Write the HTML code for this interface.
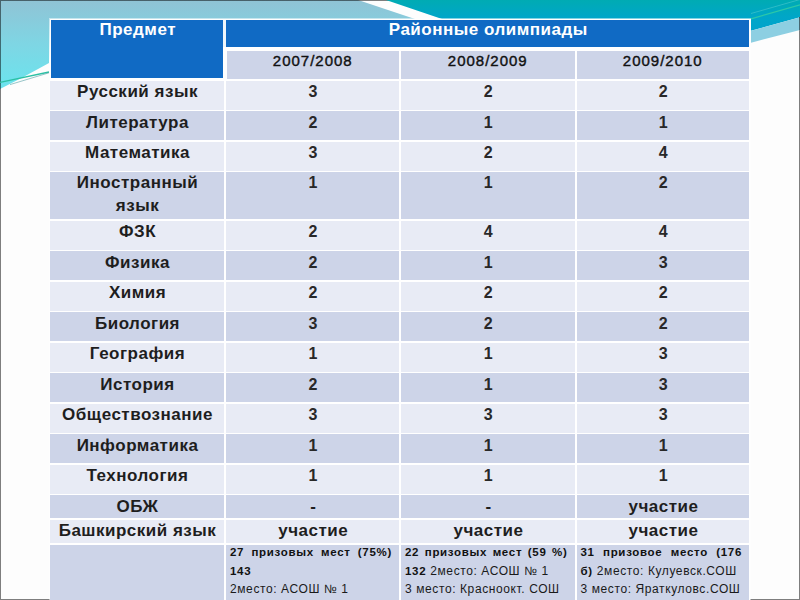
<!DOCTYPE html>
<html><head><meta charset="utf-8"><style>
html,body{margin:0;padding:0;}
body{width:800px;height:600px;overflow:hidden;position:relative;background:#fdfdfd;font-family:"Liberation Sans",sans-serif;}
.c{position:absolute;box-sizing:border-box;text-align:center;color:#111;white-space:nowrap;}
.t{position:absolute;left:0;right:0;}
.h{font-weight:bold;font-size:17px;color:#fff;line-height:23px;letter-spacing:0.5px;}
.y{font-size:15px;line-height:20px;letter-spacing:1px;-webkit-text-stroke:0.4px #111;}
.b{font-weight:bold;font-size:17px;line-height:23px;letter-spacing:0.5px;color:#1e1e1e;}
.b .t{left:1.5px;right:0;}
.h .t{left:1.5px;right:0;}
.s{font-size:12px;line-height:18.25px;text-align:left;padding:0 7px 0 4px;letter-spacing:0.6px;color:#1a1a1a;}
.s b{letter-spacing:0.7px;font-size:11.5px;color:#111;}
.s .w{position:relative;top:-1.4px;}
.s .j{text-align:justify;text-align-last:justify;}
</style></head><body>
<svg width="800" height="600" style="position:absolute;left:0;top:0">
<defs>
<linearGradient id="g1" gradientUnits="userSpaceOnUse" x1="0" y1="0" x2="0" y2="89">
<stop offset="0" stop-color="#90c3d5"/><stop offset="0.5" stop-color="#7ed6e4"/><stop offset="1" stop-color="#6ae4ee"/>
</linearGradient>
<linearGradient id="g2" gradientUnits="userSpaceOnUse" x1="0" y1="0" x2="0" y2="31">
<stop offset="0" stop-color="#00abb3"/><stop offset="0.55" stop-color="#00a6c8"/><stop offset="1" stop-color="#00a3cc"/>
</linearGradient>
</defs>
<polygon points="0,0 358,0 415,19 50,19 49,63 22,77.7 0,89" fill="url(#g1)"/>
<rect x="0.5" y="0.5" width="799" height="599" fill="none" stroke="rgba(0,0,0,0.5)" stroke-width="1"/>
<polygon points="386,0 800,0 800,17.3 751,30.7 751,19 442,19" fill="url(#g2)"/>
<polygon points="751,30.7 800,17.3 800,30 751,42.7" fill="#8dcfe2"/>
<line x1="800" y1="17" x2="800" y2="30" stroke="rgba(0,0,0,0.5)" stroke-width="2"/>
<line x1="751" y1="18.8" x2="800" y2="4.8" stroke="#2cc8a8" stroke-width="1.2"/>
<line x1="751" y1="13.5" x2="800" y2="-0.5" stroke="#40c4cc" stroke-width="1" opacity="0.7"/>
<line x1="0" y1="82.3" x2="49" y2="72" stroke="#2cc0a4" stroke-width="1.3"/>
<line x1="10" y1="84.6" x2="49" y2="72.8" stroke="#4a9aa0" stroke-width="0.8" opacity="0.7"/>
</svg>
<div style="position:absolute;left:49px;top:18px;width:702px;height:600px;background:rgba(255,255,255,0.5)"></div>
<div style="position:absolute;left:50px;top:46px;width:700px;height:590px;background:#fff;"></div>

<div class="c h" style="left:51px;top:20px;width:172px;height:58px;background:#106ac4;"><div class="t" style="top:-1.59px">Предмет</div></div>
<div class="c h" style="left:226px;top:20px;width:523px;height:27px;background:#106ac4;"><div class="t" style="top:-1.79px">Районные олимпиады</div></div>
<div style="position:absolute;left:223px;top:20px;width:3px;height:27px;background:#eef6fc"></div>
<div class="c y" style="left:226.5px;top:51px;width:172.5px;height:27.5px;background:#cdd4e8"><div class="t" style="top:-0.20px">2007/2008</div></div>
<div class="c y" style="left:401px;top:51px;width:173.5px;height:27.5px;background:#cdd4e8"><div class="t" style="top:-0.20px">2008/2009</div></div>
<div class="c y" style="left:576.5px;top:51px;width:172.5px;height:27.5px;background:#cdd4e8"><div class="t" style="top:-0.20px">2009/2010</div></div>
<div class="c b" style="left:50px;top:81.0px;width:173.5px;height:28.849999999999994px;background:#e8ebf5;"><div class="t" style="top:-1.39px">Русский язык</div></div>
<div class="c b" style="left:226px;top:81.0px;width:173px;height:28.849999999999994px;background:#e8ebf5;"><div class="t" style="top:-1.39px"><span style="font-size:16px;color:#282828">3</span></div></div>
<div class="c b" style="left:401px;top:81.0px;width:173.5px;height:28.849999999999994px;background:#e8ebf5;"><div class="t" style="top:-1.39px"><span style="font-size:16px;color:#282828">2</span></div></div>
<div class="c b" style="left:576.5px;top:81.0px;width:172.5px;height:28.849999999999994px;background:#e8ebf5;"><div class="t" style="top:-1.39px"><span style="font-size:16px;color:#282828">2</span></div></div>
<div class="c b" style="left:50px;top:111.35px;width:173.5px;height:28.700000000000017px;background:#cdd4e8;"><div class="t" style="top:-0.64px">Литература</div></div>
<div class="c b" style="left:226px;top:111.35px;width:173px;height:28.700000000000017px;background:#cdd4e8;"><div class="t" style="top:-0.64px"><span style="font-size:16px;color:#282828">2</span></div></div>
<div class="c b" style="left:401px;top:111.35px;width:173.5px;height:28.700000000000017px;background:#cdd4e8;"><div class="t" style="top:-0.64px"><span style="font-size:16px;color:#282828">1</span></div></div>
<div class="c b" style="left:576.5px;top:111.35px;width:172.5px;height:28.700000000000017px;background:#cdd4e8;"><div class="t" style="top:-0.64px"><span style="font-size:16px;color:#282828">1</span></div></div>
<div class="c b" style="left:50px;top:141.55px;width:173.5px;height:29.0px;background:#e8ebf5;"><div class="t" style="top:-0.64px">Математика</div></div>
<div class="c b" style="left:226px;top:141.55px;width:173px;height:29.0px;background:#e8ebf5;"><div class="t" style="top:-0.64px"><span style="font-size:16px;color:#282828">3</span></div></div>
<div class="c b" style="left:401px;top:141.55px;width:173.5px;height:29.0px;background:#e8ebf5;"><div class="t" style="top:-0.64px"><span style="font-size:16px;color:#282828">2</span></div></div>
<div class="c b" style="left:576.5px;top:141.55px;width:172.5px;height:29.0px;background:#e8ebf5;"><div class="t" style="top:-0.64px"><span style="font-size:16px;color:#282828">4</span></div></div>
<div class="c b" style="left:50px;top:172.05px;width:173.5px;height:47.0px;background:#cdd4e8;"><div class="t" style="top:-0.64px">Иностранный<br>язык</div></div>
<div class="c b" style="left:226px;top:172.05px;width:173px;height:47.0px;background:#cdd4e8;"><div class="t" style="top:-0.64px"><span style="font-size:16px;color:#282828">1</span></div></div>
<div class="c b" style="left:401px;top:172.05px;width:173.5px;height:47.0px;background:#cdd4e8;"><div class="t" style="top:-0.64px"><span style="font-size:16px;color:#282828">1</span></div></div>
<div class="c b" style="left:576.5px;top:172.05px;width:172.5px;height:47.0px;background:#cdd4e8;"><div class="t" style="top:-0.64px"><span style="font-size:16px;color:#282828">2</span></div></div>
<div class="c b" style="left:50px;top:220.55px;width:173.5px;height:29.19999999999999px;background:#e8ebf5;"><div class="t" style="top:-0.64px">ФЗК</div></div>
<div class="c b" style="left:226px;top:220.55px;width:173px;height:29.19999999999999px;background:#e8ebf5;"><div class="t" style="top:-0.64px"><span style="font-size:16px;color:#282828">2</span></div></div>
<div class="c b" style="left:401px;top:220.55px;width:173.5px;height:29.19999999999999px;background:#e8ebf5;"><div class="t" style="top:-0.64px"><span style="font-size:16px;color:#282828">4</span></div></div>
<div class="c b" style="left:576.5px;top:220.55px;width:172.5px;height:29.19999999999999px;background:#e8ebf5;"><div class="t" style="top:-0.64px"><span style="font-size:16px;color:#282828">4</span></div></div>
<div class="c b" style="left:50px;top:251.25px;width:173.5px;height:28.80000000000001px;background:#cdd4e8;"><div class="t" style="top:-0.64px">Физика</div></div>
<div class="c b" style="left:226px;top:251.25px;width:173px;height:28.80000000000001px;background:#cdd4e8;"><div class="t" style="top:-0.64px"><span style="font-size:16px;color:#282828">2</span></div></div>
<div class="c b" style="left:401px;top:251.25px;width:173.5px;height:28.80000000000001px;background:#cdd4e8;"><div class="t" style="top:-0.64px"><span style="font-size:16px;color:#282828">1</span></div></div>
<div class="c b" style="left:576.5px;top:251.25px;width:172.5px;height:28.80000000000001px;background:#cdd4e8;"><div class="t" style="top:-0.64px"><span style="font-size:16px;color:#282828">3</span></div></div>
<div class="c b" style="left:50px;top:281.55px;width:173.5px;height:29.099999999999966px;background:#e8ebf5;"><div class="t" style="top:-0.64px">Химия</div></div>
<div class="c b" style="left:226px;top:281.55px;width:173px;height:29.099999999999966px;background:#e8ebf5;"><div class="t" style="top:-0.64px"><span style="font-size:16px;color:#282828">2</span></div></div>
<div class="c b" style="left:401px;top:281.55px;width:173.5px;height:29.099999999999966px;background:#e8ebf5;"><div class="t" style="top:-0.64px"><span style="font-size:16px;color:#282828">2</span></div></div>
<div class="c b" style="left:576.5px;top:281.55px;width:172.5px;height:29.099999999999966px;background:#e8ebf5;"><div class="t" style="top:-0.64px"><span style="font-size:16px;color:#282828">2</span></div></div>
<div class="c b" style="left:50px;top:312.15px;width:173.5px;height:29.100000000000023px;background:#cdd4e8;"><div class="t" style="top:-0.64px">Биология</div></div>
<div class="c b" style="left:226px;top:312.15px;width:173px;height:29.100000000000023px;background:#cdd4e8;"><div class="t" style="top:-0.64px"><span style="font-size:16px;color:#282828">3</span></div></div>
<div class="c b" style="left:401px;top:312.15px;width:173.5px;height:29.100000000000023px;background:#cdd4e8;"><div class="t" style="top:-0.64px"><span style="font-size:16px;color:#282828">2</span></div></div>
<div class="c b" style="left:576.5px;top:312.15px;width:172.5px;height:29.100000000000023px;background:#cdd4e8;"><div class="t" style="top:-0.64px"><span style="font-size:16px;color:#282828">2</span></div></div>
<div class="c b" style="left:50px;top:342.75px;width:173.5px;height:29.0px;background:#e8ebf5;"><div class="t" style="top:-0.64px">География</div></div>
<div class="c b" style="left:226px;top:342.75px;width:173px;height:29.0px;background:#e8ebf5;"><div class="t" style="top:-0.64px"><span style="font-size:16px;color:#282828">1</span></div></div>
<div class="c b" style="left:401px;top:342.75px;width:173.5px;height:29.0px;background:#e8ebf5;"><div class="t" style="top:-0.64px"><span style="font-size:16px;color:#282828">1</span></div></div>
<div class="c b" style="left:576.5px;top:342.75px;width:172.5px;height:29.0px;background:#e8ebf5;"><div class="t" style="top:-0.64px"><span style="font-size:16px;color:#282828">3</span></div></div>
<div class="c b" style="left:50px;top:373.25px;width:173.5px;height:28.80000000000001px;background:#cdd4e8;"><div class="t" style="top:-0.64px">История</div></div>
<div class="c b" style="left:226px;top:373.25px;width:173px;height:28.80000000000001px;background:#cdd4e8;"><div class="t" style="top:-0.64px"><span style="font-size:16px;color:#282828">2</span></div></div>
<div class="c b" style="left:401px;top:373.25px;width:173.5px;height:28.80000000000001px;background:#cdd4e8;"><div class="t" style="top:-0.64px"><span style="font-size:16px;color:#282828">1</span></div></div>
<div class="c b" style="left:576.5px;top:373.25px;width:172.5px;height:28.80000000000001px;background:#cdd4e8;"><div class="t" style="top:-0.64px"><span style="font-size:16px;color:#282828">3</span></div></div>
<div class="c b" style="left:50px;top:403.55px;width:173.5px;height:29.099999999999966px;background:#e8ebf5;"><div class="t" style="top:-0.64px">Обществознание</div></div>
<div class="c b" style="left:226px;top:403.55px;width:173px;height:29.099999999999966px;background:#e8ebf5;"><div class="t" style="top:-0.64px"><span style="font-size:16px;color:#282828">3</span></div></div>
<div class="c b" style="left:401px;top:403.55px;width:173.5px;height:29.099999999999966px;background:#e8ebf5;"><div class="t" style="top:-0.64px"><span style="font-size:16px;color:#282828">3</span></div></div>
<div class="c b" style="left:576.5px;top:403.55px;width:172.5px;height:29.099999999999966px;background:#e8ebf5;"><div class="t" style="top:-0.64px"><span style="font-size:16px;color:#282828">3</span></div></div>
<div class="c b" style="left:50px;top:434.15px;width:173.5px;height:29.30000000000001px;background:#cdd4e8;"><div class="t" style="top:-0.64px">Информатика</div></div>
<div class="c b" style="left:226px;top:434.15px;width:173px;height:29.30000000000001px;background:#cdd4e8;"><div class="t" style="top:-0.64px"><span style="font-size:16px;color:#282828">1</span></div></div>
<div class="c b" style="left:401px;top:434.15px;width:173.5px;height:29.30000000000001px;background:#cdd4e8;"><div class="t" style="top:-0.64px"><span style="font-size:16px;color:#282828">1</span></div></div>
<div class="c b" style="left:576.5px;top:434.15px;width:172.5px;height:29.30000000000001px;background:#cdd4e8;"><div class="t" style="top:-0.64px"><span style="font-size:16px;color:#282828">1</span></div></div>
<div class="c b" style="left:50px;top:464.95px;width:173.5px;height:29.0px;background:#e8ebf5;"><div class="t" style="top:-0.64px">Технология</div></div>
<div class="c b" style="left:226px;top:464.95px;width:173px;height:29.0px;background:#e8ebf5;"><div class="t" style="top:-0.64px"><span style="font-size:16px;color:#282828">1</span></div></div>
<div class="c b" style="left:401px;top:464.95px;width:173.5px;height:29.0px;background:#e8ebf5;"><div class="t" style="top:-0.64px"><span style="font-size:16px;color:#282828">1</span></div></div>
<div class="c b" style="left:576.5px;top:464.95px;width:172.5px;height:29.0px;background:#e8ebf5;"><div class="t" style="top:-0.64px"><span style="font-size:16px;color:#282828">1</span></div></div>
<div class="c b" style="left:50px;top:495.45px;width:173.5px;height:23.000000000000057px;background:#cdd4e8;"><div class="t" style="top:-0.64px">ОБЖ</div></div>
<div class="c b" style="left:226px;top:495.45px;width:173px;height:23.000000000000057px;background:#cdd4e8;"><div class="t" style="top:-0.64px">-</div></div>
<div class="c b" style="left:401px;top:495.45px;width:173.5px;height:23.000000000000057px;background:#cdd4e8;"><div class="t" style="top:-0.64px">-</div></div>
<div class="c b" style="left:576.5px;top:495.45px;width:172.5px;height:23.000000000000057px;background:#cdd4e8;"><div class="t" style="top:-0.64px">участие</div></div>
<div class="c b" style="left:50px;top:519.95px;width:173.5px;height:23.199999999999932px;background:#e8ebf5;"><div class="t" style="top:-0.64px">Башкирский язык</div></div>
<div class="c b" style="left:226px;top:519.95px;width:173px;height:23.199999999999932px;background:#e8ebf5;"><div class="t" style="top:-0.64px">участие</div></div>
<div class="c b" style="left:401px;top:519.95px;width:173.5px;height:23.199999999999932px;background:#e8ebf5;"><div class="t" style="top:-0.64px">участие</div></div>
<div class="c b" style="left:576.5px;top:519.95px;width:172.5px;height:23.199999999999932px;background:#e8ebf5;"><div class="t" style="top:-0.64px">участие</div></div>
<div class="c " style="left:50px;top:544.7px;width:173.5px;height:65.29999999999995px;background:#cdd4e8;"></div>
<div class="c s" style="left:226px;top:544.7px;width:173px;height:65.29999999999995px;background:#cdd4e8"><div class="w"><div class="j"><b>27 призовых мест (75%)</b></div><div><b>143</b></div><div>2место: АСОШ № 1</div></div></div>
<div class="c s" style="left:401px;top:544.7px;width:173.5px;height:65.29999999999995px;background:#cdd4e8"><div class="w"><div class="j"><b>22 призовых мест (59 %)</b></div><div><b>132</b> 2место: АСОШ № 1</div><div>3 место: Красноокт. СОШ</div></div></div>
<div class="c s" style="left:576.5px;top:544.7px;width:172.5px;height:65.29999999999995px;background:#cdd4e8"><div class="w"><div class="j"><b>31 призовое место (176</b></div><div><b>б)</b> 2место: Кулуевск.СОШ</div><div>3 место: Яраткуловс.СОШ</div></div></div>
</body></html>
